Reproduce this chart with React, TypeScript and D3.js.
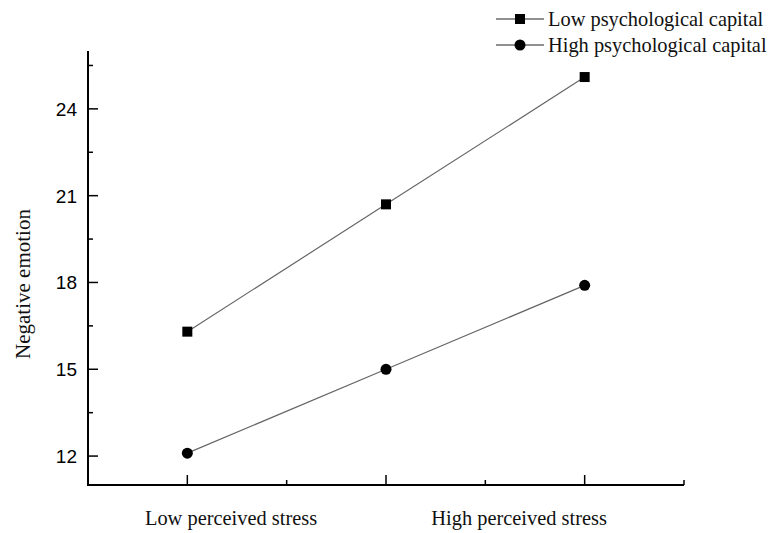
import React from "react";
import * as d3 from "d3";

const categories = ["Low perceived stress", "High perceived stress"];
const xPositions = [1, 3, 5];
const lowPsyCap = [16.3, 20.7, 25.1];
const highPsyCap = [12.1, 15.0, 17.9];
const yTicks = [12, 15, 18, 21, 24];
const yMinorTicks = [13.5, 16.5, 19.5, 22.5, 25.5];
const xMajorTicks = [1, 3, 5];
const xMinorTicks = [2, 4, 6];
const categoryPositions = [1.44, 4.34];
const seriesNames = ["Low psychological capital", "High psychological capital"];

const W = 769;
const H = 533;

export default function App() {
  const x = d3.scaleLinear().domain([0, 6]).range([88, 684]);
  const y = d3.scaleLinear().domain([11, 26]).range([485, 51]);
  const line = d3
    .line<number>()
    .x((_, i) => x(xPositions[i]))
    .y((d) => y(d));
  const serif = "'Liberation Serif', 'Times New Roman', serif";
  const sans = "'Liberation Sans', Arial, sans-serif";
  const lineColor = "#666";

  return (
    <svg
      width={W}
      height={H}
      style={{ position: "absolute", left: 0, top: 0, background: "#fff" }}
    >
      {/* axes */}
      <line x1={x(0)} x2={x(0)} y1={y(26)} y2={y(11)} stroke="#000" strokeWidth={2} />
      <line x1={x(0) - 1} x2={x(6)} y1={y(11)} y2={y(11)} stroke="#000" strokeWidth={2} />
      {yTicks.map((t) => (
        <g key={"yt" + t}>
          <line x1={x(0)} x2={x(0) + 10} y1={y(t)} y2={y(t)} stroke="#000" strokeWidth={1.5} />
          <text
            x={x(0) - 11}
            y={y(t)}
            dy="0.36em"
            textAnchor="end"
            fontFamily={sans}
            fontSize={19}
            fill="#000"
          >
            {t}
          </text>
        </g>
      ))}
      {yMinorTicks.map((t) => (
        <line key={"ym" + t} x1={x(0)} x2={x(0) + 5} y1={y(t)} y2={y(t)} stroke="#000" strokeWidth={1.5} />
      ))}
      {xMajorTicks.map((t) => (
        <line key={"xt" + t} x1={x(t)} x2={x(t)} y1={y(11)} y2={y(11) - 10} stroke="#000" strokeWidth={1.5} />
      ))}
      {xMinorTicks.map((t) => (
        <line key={"xm" + t} x1={x(t)} x2={x(t)} y1={y(11)} y2={y(11) - 5} stroke="#000" strokeWidth={1.5} />
      ))}
      {categories.map((c, i) => (
        <text
          key={c}
          x={x(categoryPositions[i])}
          y={525}
          textAnchor="middle"
          fontFamily={serif}
          fontSize={20.4}
          fill="#111"
        >
          {c}
        </text>
      ))}
      <text
        transform={`translate(30, 284) rotate(-90)`}
        textAnchor="middle"
        fontFamily={serif}
        fontSize={21}
        fill="#111"
      >
        Negative emotion
      </text>

      {/* series */}
      <path d={line(lowPsyCap) || ""} fill="none" stroke={lineColor} strokeWidth={1.2} />
      <path d={line(highPsyCap) || ""} fill="none" stroke={lineColor} strokeWidth={1.2} />
      {lowPsyCap.map((v, i) => (
        <rect key={"s" + i} x={x(xPositions[i]) - 5} y={y(v) - 5} width={10} height={10} fill="#000" />
      ))}
      {highPsyCap.map((v, i) => (
        <circle key={"c" + i} cx={x(xPositions[i])} cy={y(v)} r={5.5} fill="#000" />
      ))}

      {/* legend */}
      {seriesNames.map((n, i) => {
        const ly = 19 + i * 26;
        return (
          <g key={n}>
            <line x1={496} x2={544} y1={ly} y2={ly} stroke="#222" strokeWidth={1.2} />
            {i === 0 ? (
              <rect x={515} y={ly - 5} width={10} height={10} fill="#000" />
            ) : (
              <circle cx={520} cy={ly} r={5.5} fill="#000" />
            )}
            <text x={548} y={ly} dy="0.33em" fontFamily={serif} fontSize={20.4} fill="#111">
              {n}
            </text>
          </g>
        );
      })}
    </svg>
  );
}
